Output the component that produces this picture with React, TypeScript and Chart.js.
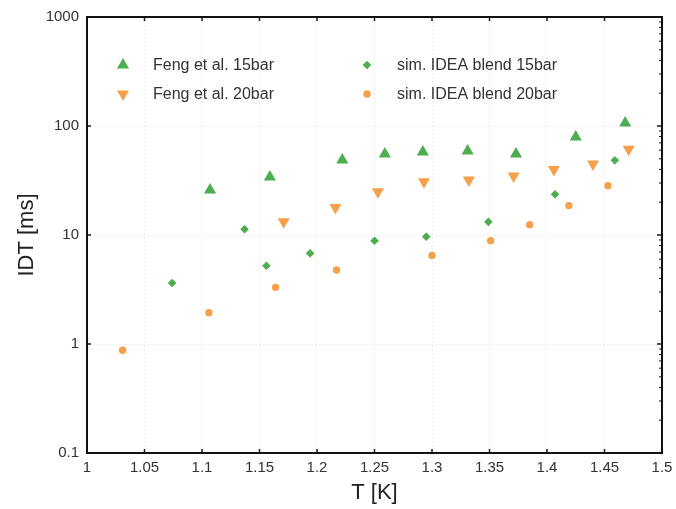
import React, { useEffect, useRef } from "react";
import { Chart, registerables } from "chart.js";

Chart.register(...registerables);

// ---- data ----
const fengT15 = [1.107, 1.159, 1.222, 1.259, 1.292, 1.331, 1.373, 1.425, 1.468];
const fengIDT15 = [25.9, 34.0, 48.7, 55.3, 57.7, 58.9, 55.3, 79.3, 106.7];

const fengT20 = [1.171, 1.216, 1.253, 1.293, 1.332, 1.371, 1.406, 1.44, 1.471];
const fengIDT20 = [13.2, 17.9, 24.9, 30.8, 31.9, 34.8, 40.0, 44.8, 61.1];

const simT15 = [1.074, 1.137, 1.156, 1.194, 1.25, 1.295, 1.349, 1.407, 1.459];
const simIDT15 = [3.63, 11.3, 5.23, 6.79, 8.87, 9.66, 13.2, 23.6, 48.4];

const simT20 = [1.031, 1.106, 1.164, 1.217, 1.3, 1.351, 1.385, 1.419, 1.453];
const simIDT20 = [0.875, 1.94, 3.31, 4.77, 6.5, 8.87, 12.4, 18.6, 28.3];

const seriesLabels = [
  "Feng et al. 15bar",
  "Feng et al. 20bar",
  "sim. IDEA blend 15bar",
  "sim. IDEA blend 20bar",
];

const xTickLabels = ["1", "1.05", "1.1", "1.15", "1.2", "1.25", "1.3", "1.35", "1.4", "1.45", "1.5"];
const yTickValues = [0.1, 1, 10, 100, 1000];
const yTickLabels = ["0.1", "1", "10", "100", "1000"];

const GREEN = "#4dae4f";
const ORANGE = "#f6a04c";
const FONT = "'Liberation Sans', Arial, sans-serif";

const toPoints = (xs: number[], ys: number[]) => xs.map((x, i) => ({ x, y: ys[i] }));

function drawMarker(ctx: CanvasRenderingContext2D, kind: string, x: number, y: number, color: string) {
  ctx.save();
  ctx.fillStyle = color;
  ctx.beginPath();
  if (kind === "up" || kind === "down") {
    const r = 7;
    const s = kind === "up" ? 1 : -1;
    ctx.moveTo(x, y - s * r);
    ctx.lineTo(x + Math.sin((2 * Math.PI) / 3) * r, y + s * r * 0.5);
    ctx.lineTo(x - Math.sin((2 * Math.PI) / 3) * r, y + s * r * 0.5);
    ctx.closePath();
  } else if (kind === "diamond") {
    const r = 4.3;
    ctx.moveTo(x, y - r);
    ctx.lineTo(x + r, y);
    ctx.lineTo(x, y + r);
    ctx.lineTo(x - r, y);
    ctx.closePath();
  } else {
    ctx.arc(x, y, 3.7, 0, Math.PI * 2);
  }
  ctx.fill();
  ctx.restore();
}

const framePlugin = {
  id: "frameAndLegend",
  afterDatasetsDraw(chart: any) {
    const { ctx, chartArea } = chart;
    const { left, right, top, bottom } = chartArea;
    const xs = chart.scales.x;
    const ys = chart.scales.y;
    ctx.save();
    ctx.strokeStyle = "#1a1a1a";
    ctx.lineWidth = 1.5;
    // inward ticks
    ctx.beginPath();
    xTickLabels.forEach((l) => {
      const px = xs.getPixelForValue(parseFloat(l));
      if (px <= left + 1 || px >= right - 1) return;
      ctx.moveTo(px, bottom);
      ctx.lineTo(px, bottom - 4);
      ctx.moveTo(px, top);
      ctx.lineTo(px, top + 4);
    });
    yTickValues.forEach((v) => {
      const py = ys.getPixelForValue(v);
      if (py <= top + 1 || py >= bottom - 1) return;
      ctx.moveTo(left, py);
      ctx.lineTo(left + 4, py);
      ctx.moveTo(right, py);
      ctx.lineTo(right - 5, py);
    });
    ctx.stroke();
    ctx.lineWidth = 1;
    ctx.beginPath();
    for (let d = 0; d < yTickValues.length - 1; d++) {
      for (let m = 2; m <= 9; m++) {
        const py = ys.getPixelForValue(yTickValues[d] * m);
        ctx.moveTo(right, py);
        ctx.lineTo(right - 3, py);
      }
    }
    ctx.stroke();
    // frame
    ctx.lineWidth = 2;
    ctx.strokeStyle = "#111";
    ctx.strokeRect(left, top, right - left, bottom - top);

    // legend
    const kinds = ["up", "down", "diamond", "circle"];
    const colors = [GREEN, ORANGE, GREEN, ORANGE];
    ctx.font = `16px ${FONT}`;
    ctx.textBaseline = "middle";
    ctx.textAlign = "left";
    seriesLabels.forEach((lab, i) => {
      const col = Math.floor(i / 2);
      const row = i % 2;
      const mx = left + 36 + col * 244;
      const my = top + 48 + row * 29;
      drawMarker(ctx, kinds[i], mx, my, colors[i]);
      ctx.fillStyle = "#333";
      ctx.fillText(lab, mx + 30, my + 1);
    });
    ctx.restore();
  },
};

export default function App() {
  const ref = useRef<HTMLCanvasElement | null>(null);

  useEffect(() => {
    if (!ref.current) return;
    const chart = new Chart(ref.current, {
      type: "scatter",
      data: {
        datasets: [
          {
            label: seriesLabels[0],
            data: toPoints(fengT15, fengIDT15),
            backgroundColor: GREEN,
            borderColor: GREEN,
            borderWidth: 0,
            pointStyle: "triangle",
            pointRadius: 7,
          },
          {
            label: seriesLabels[1],
            data: toPoints(fengT20, fengIDT20),
            backgroundColor: ORANGE,
            borderColor: ORANGE,
            borderWidth: 0,
            pointStyle: "triangle",
            rotation: 180,
            pointRadius: 7,
          },
          {
            label: seriesLabels[2],
            data: toPoints(simT15, simIDT15),
            backgroundColor: GREEN,
            borderColor: GREEN,
            borderWidth: 0,
            pointStyle: "rectRot",
            pointRadius: 4.3,
          },
          {
            label: seriesLabels[3],
            data: toPoints(simT20, simIDT20),
            backgroundColor: ORANGE,
            borderColor: ORANGE,
            borderWidth: 0,
            pointStyle: "circle",
            pointRadius: 3.7,
          },
        ] as any,
      },
      options: {
        animation: false,
        responsive: true,
        maintainAspectRatio: false,
        layout: { padding: { top: 17, right: 14, left: 0, bottom: 0 } },
        plugins: { legend: { display: false }, tooltip: { enabled: false } },
        scales: {
          x: {
            type: "linear",
            min: 1,
            max: 1.5,
            afterFit: (s: any) => {
              s.height = 56;
              s.paddingRight = 0;
              s.paddingLeft = 0;
            },
            ticks: {
              stepSize: 0.05,
              color: "#333",
              font: { family: FONT, size: 15 },
              padding: 6,
              maxRotation: 0,
              autoSkip: false,
              callback: (_v: any, i: number) => xTickLabels[i],
            },
            grid: { color: "rgba(0,0,0,0.07)", drawTicks: false },
            border: { display: false, dash: [2, 2] },
            title: {
              display: true,
              text: "T [K]",
              color: "#222",
              font: { family: FONT, size: 22 },
              padding: { top: 0, bottom: 3 },
            },
          },
          y: {
            type: "logarithmic",
            min: 0.1,
            max: 1000,
            afterFit: (s: any) => {
              s.width = 87;
            },
            ticks: {
              color: "#333",
              font: { family: FONT, size: 15 },
              padding: 8,
              autoSkip: false,
              callback: (v: any) => {
                const idx = yTickValues.findIndex((t) => Math.abs(t - Number(v)) < t * 1e-6);
                return idx >= 0 ? yTickLabels[idx] : null;
              },
            },
            grid: { color: "rgba(0,0,0,0.07)", drawTicks: false },
            border: { display: false, dash: [2, 2] },
            title: {
              display: true,
              text: "IDT [ms]",
              color: "#222",
              font: { family: FONT, size: 22 },
              padding: { top: 14, bottom: 0 },
            },
          },
        },
      } as any,
      plugins: [framePlugin],
    });
    return () => chart.destroy();
  }, []);

  return (
    <div style={{ position: "fixed", left: 0, top: 0, width: 676, height: 509, background: "#fff" }}>
      <canvas ref={ref} />
    </div>
  );
}
